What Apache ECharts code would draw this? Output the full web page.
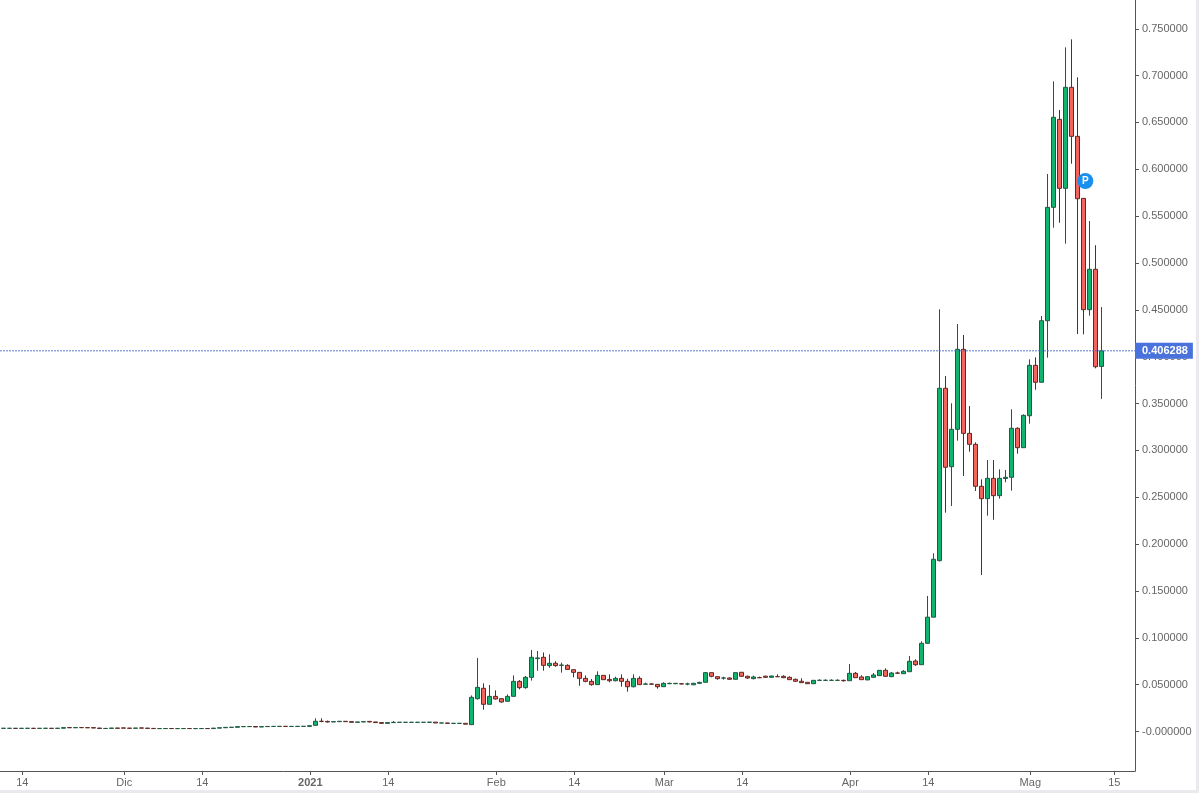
<!DOCTYPE html>
<html><head><meta charset="utf-8">
<style>
html,body{margin:0;padding:0;background:#e9e9ee;overflow:hidden}
#c{position:absolute;left:0;top:0;width:1196px;height:790px;background:#fff}
</style>
<script src="https://cdn.jsdelivr.net/npm/echarts@6/dist/echarts.min.js"></script>
</head><body><div id="c"></div>
<script>
var firstDay = Date.UTC(2020, 10, 11);
var DAY = 86400000;
var open = [
.0034,.0034,.0034,.0033,.0034,.0034,.0033,.0034,.0034,.0033,
.0035,.0042,.0040,.0042,.0041,.0041,.0037,.0032,.0033,.0037,
.0038,.0036,.0034,.0038,.0036,.0033,.0031,.0031,.0032,.0031,
.0031,.0032,.0031,.0031,.0032,.0031,.0036,.0040,.0044,.0045,
.0052,.0052,.0053,.0048,.0052,.0054,.0054,.0055,.0054,.0054,
.0055,.0055,.0066,.0109,.0108,.0102,.0105,.0109,.0105,.0098,
.0102,.0108,.0102,.0095,.0087,.0095,.0098,.0098,.0098,.0098,
.0098,.0098,.0100,.0091,.0091,.0087,.0087,.0087,.0073,.0350,
.0461,.0290,.0375,.0350,.0322,.0375,.0535,.0468,.0578,.0778,
.0792,.0703,.0728,.0706,.0706,.0660,.0631,.0567,.0535,.0500,
.0599,.0556,.0542,.0567,.0535,.0478,.0567,.0505,.0507,.0503,
.0478,.0510,.0510,.0510,.0507,.0498,.0514,.0525,.0628,.0585,
.0570,.0571,.0557,.0632,.0589,.0564,.0575,.0590,.0578,.0585,
.0589,.0578,.0557,.0536,.0525,.0510,.0546,.0546,.0546,.0546,
.0546,.0542,.0621,.0582,.0550,.0578,.0596,.0653,.0585,.0624,
.0617,.0638,.0752,.0713,.0941,.1220,.1823,.3663,.2826,.3225,
.4079,.3182,.3065,.2617,.2485,.2702,.2517,.2700,.2713,.3236,
.3029,.3370,.3908,.3727,.4384,.5594,.6533,.5797,.6875,.6352,
.5690,.4502,.4933,.3896];
var close = [
.0034,.0034,.0033,.0034,.0034,.0033,.0034,.0034,.0033,.0035,
.0041,.0040,.0042,.0041,.0040,.0037,.0032,.0033,.0037,.0034,
.0036,.0034,.0037,.0036,.0033,.0031,.0031,.0032,.0031,.0031,
.0032,.0031,.0031,.0032,.0031,.0036,.0040,.0044,.0045,.0052,
.0052,.0053,.0048,.0052,.0054,.0054,.0055,.0054,.0054,.0055,
.0055,.0062,.0109,.0108,.0102,.0105,.0109,.0105,.0098,.0102,
.0105,.0102,.0095,.0087,.0095,.0098,.0098,.0098,.0098,.0098,
.0098,.0100,.0091,.0091,.0087,.0087,.0087,.0078,.0365,.0471,
.0290,.0375,.0347,.0315,.0375,.0535,.0468,.0578,.0792,.0785,
.0706,.0728,.0703,.0709,.0663,.0631,.0567,.0535,.0500,.0599,
.0553,.0542,.0567,.0535,.0478,.0567,.0500,.0507,.0505,.0478,
.0514,.0514,.0514,.0507,.0507,.0514,.0525,.0628,.0589,.0564,
.0571,.0557,.0628,.0589,.0571,.0582,.0574,.0578,.0592,.0585,
.0574,.0553,.0536,.0521,.0510,.0546,.0546,.0546,.0546,.0546,
.0542,.0621,.0574,.0553,.0585,.0603,.0653,.0589,.0624,.0622,
.0642,.0749,.0713,.0941,.1220,.1838,.3663,.2820,.3225,.4079,
.3182,.3065,.2617,.2485,.2702,.2517,.2702,.2713,.3236,.3029,
.3374,.3908,.3727,.4384,.5594,.6555,.5797,.6875,.6352,.5686,
.4502,.4933,.3893,.4063];
var high = [
.0034,.0034,.0034,.0034,.0034,.0034,.0034,.0034,.0034,.0035,
.0042,.0042,.0042,.0042,.0041,.0041,.0037,.0033,.0037,.0037,
.0038,.0036,.0037,.0038,.0036,.0033,.0031,.0032,.0032,.0031,
.0032,.0032,.0031,.0032,.0032,.0036,.0040,.0044,.0045,.0052,
.0052,.0053,.0053,.0052,.0054,.0054,.0055,.0055,.0054,.0055,
.0055,.0062,.0141,.0141,.0116,.0105,.0112,.0109,.0105,.0102,
.0105,.0108,.0102,.0095,.0095,.0112,.0100,.0098,.0098,.0098,
.0098,.0100,.0100,.0094,.0091,.0090,.0090,.0087,.0385,.0785,
.0514,.0497,.0439,.0358,.0396,.0599,.0549,.0592,.0870,.0859,
.0844,.0824,.0750,.0735,.0717,.0660,.0631,.0599,.0560,.0642,
.0599,.0610,.0585,.0610,.0563,.0610,.0589,.0521,.0514,.0507,
.0525,.0521,.0518,.0514,.0521,.0520,.0530,.0635,.0628,.0585,
.0585,.0578,.0628,.0632,.0596,.0596,.0585,.0596,.0596,.0610,
.0600,.0589,.0564,.0568,.0525,.0550,.0557,.0557,.0557,.0557,
.0553,.0720,.0635,.0600,.0589,.0624,.0656,.0674,.0635,.0638,
.0656,.0806,.0770,.0962,.1447,.1902,.4506,.3794,.3503,.4349,
.4232,.3474,.3086,.2691,.2898,.2898,.2798,.2791,.3439,.3247,
.3385,.3972,.3993,.4434,.5950,.6939,.6633,.7302,.7387,.6982,
.5690,.5448,.5190,.4530];
var low = [
.0034,.0034,.0033,.0033,.0034,.0033,.0033,.0034,.0033,.0033,
.0035,.0040,.0040,.0041,.0040,.0037,.0032,.0032,.0033,.0034,
.0036,.0034,.0034,.0036,.0033,.0031,.0031,.0031,.0031,.0031,
.0031,.0031,.0031,.0031,.0031,.0031,.0036,.0040,.0044,.0045,
.0052,.0052,.0048,.0048,.0052,.0054,.0054,.0054,.0054,.0054,
.0055,.0055,.0066,.0098,.0095,.0102,.0105,.0105,.0098,.0098,
.0102,.0098,.0095,.0087,.0087,.0095,.0098,.0098,.0098,.0098,
.0098,.0098,.0091,.0091,.0087,.0087,.0087,.0078,.0073,.0340,
.0233,.0290,.0340,.0308,.0322,.0375,.0450,.0457,.0543,.0649,
.0649,.0680,.0691,.0628,.0663,.0578,.0488,.0525,.0489,.0500,
.0553,.0525,.0535,.0478,.0425,.0470,.0500,.0503,.0500,.0457,
.0478,.0507,.0505,.0503,.0493,.0498,.0510,.0525,.0578,.0553,
.0553,.0553,.0557,.0585,.0560,.0556,.0570,.0575,.0574,.0582,
.0570,.0553,.0532,.0518,.0510,.0510,.0539,.0539,.0539,.0539,
.0532,.0542,.0574,.0553,.0550,.0578,.0596,.0585,.0585,.0617,
.0617,.0638,.0700,.0713,.0934,.1220,.1815,.2335,.2407,.3104,
.2727,.2986,.2567,.1670,.2303,.2260,.2485,.2660,.2570,.2965,
.3029,.3285,.3648,.3727,.3990,.5377,.5430,.5206,.6060,.4242,
.4239,.4438,.3876,.3550];

var xTickLabels = ['14','Dic','14','2021','14','Feb','14','Mar','14','Apr','14','Mag','15'];
var xTickDates = ['2020-11-14','2020-12-01','2020-12-14','2021-01-01','2021-01-14','2021-02-01','2021-02-14','2021-03-01','2021-03-14','2021-04-01','2021-04-14','2021-05-01','2021-05-15'];
var yTickValues = [0,.05,.1,.15,.2,.25,.3,.35,.4,.45,.5,.55,.6,.65,.7,.75];
var yTickLabels = ['-0.000000','0.050000','0.100000','0.150000','0.200000','0.250000','0.300000','0.350000','0.400000','0.450000','0.500000','0.550000','0.600000','0.650000','0.700000','0.750000'];
var lastPrice = 0.406288;
var lastPriceLabel = '0.406288';
var flagDate = '2021-05-10T08:00:00Z';
var flagValue = 0.5875;

var tickShift = DAY / 6;
var tickTimes = xTickDates.map(function (d) { return Date.parse(d + 'T00:00:00Z') + tickShift; });
var candles = open.map(function (o, i) {
  return [firstDay + i * DAY, o, close[i], low[i], high[i]];
});
var xMin = Date.UTC(2020, 11, 1) - 20.55 * DAY;
var xMax = Date.UTC(2020, 11, 1) + 168.617 * DAY;
var labelFor = function (v) {
  var i = tickTimes.indexOf(v);
  if (i < 0) return '';
  return xTickLabels[i] === '2021' ? '{b|2021}' : xTickLabels[i];
};
var chart = echarts.init(document.getElementById('c'));
chart.setOption({
  animation: false,
  backgroundColor: '#fff',
  textStyle: { fontFamily: '"Liberation Sans", Arial, sans-serif' },
  grid: { left: 0, right: 61, top: 0, bottom: 19, containLabel: false },
  xAxis: {
    type: 'value', scale: true, min: xMin, max: xMax,
    axisLine: { onZero: false, lineStyle: { color: '#555', width: 1 } },
    axisTick: { length: 4, lineStyle: { color: '#555' }, customValues: tickTimes },
    splitLine: { show: false },
    axisLabel: {
      customValues: tickTimes, formatter: labelFor, color: '#666', fontSize: 11, margin: 6, hideOverlap: false,
      showMinLabel: true, showMaxLabel: true,
      rich: { b: { fontWeight: 'bold', color: '#666', fontSize: 11 } }
    }
  },
  yAxis: {
    type: 'value', position: 'right',
    min: -0.04216, max: 0.7807, scale: true,
    axisLine: { show: true, onZero: false, lineStyle: { color: '#555', width: 1 } },
    axisTick: { show: true, length: 4, lineStyle: { color: '#555' }, customValues: yTickValues },
    splitLine: { show: false },
    axisLabel: {
      customValues: yTickValues, color: '#666', fontSize: 11, margin: 7, align: 'left', padding: [2, 0, 0, 0], hideOverlap: false,
      formatter: function (v) {
        var i = yTickValues.indexOf(v);
        return i < 0 ? '' : yTickLabels[i];
      }
    }
  },
  series: [{
    type: 'candlestick', data: candles, barWidth: 4, clip: false,
    itemStyle: { color: '#10b46e', color0: '#f2645c', borderColor: '#1d5a42', borderColor0: '#5e2a24', borderWidth: 1 },
    markPoint: {
      silent: true, animation: false,
      data: [{ coord: [Date.parse(flagDate), flagValue], symbol: 'circle', symbolSize: 16,
        itemStyle: { color: '#1a90ee' },
        label: { show: true, formatter: 'P', color: '#fff', fontWeight: 'bold', fontSize: 10, position: 'inside' } }]
    }
  }, {
    type: 'line', data: [[xMin, lastPrice], [xMax, lastPrice]], showSymbol: false, symbol: 'none', silent: true, z: 5,
    lineStyle: { color: '#4a6cc8', type: [2, 1], width: 1, opacity: 0.9 },
    endLabel: {
      show: true, formatter: lastPriceLabel, color: '#fff', fontWeight: 'bold', fontSize: 11, distance: 0,
      backgroundColor: '#4a72dc', padding: [3, 5, 2, 7]
    }
  }]
});
</script></body></html>
